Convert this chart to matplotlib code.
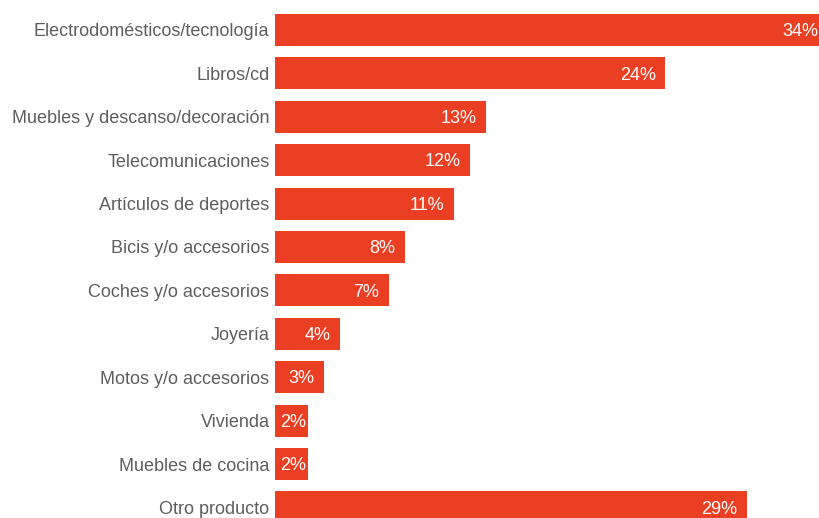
"""Horizontal bar chart of product categories by share of purchases."""

import matplotlib.pyplot as plt
import numpy as np

categories = [
    "Electrodomésticos/tecnología",
    "Libros/cd",
    "Muebles y descanso/decoración",
    "Telecomunicaciones",
    "Artículos de deportes",
    "Bicis y/o accesorios",
    "Coches y/o accesorios",
    "Joyería",
    "Motos y/o accesorios",
    "Vivienda",
    "Muebles de cocina",
    "Otro producto",
]
shares = [34, 24, 13, 12, 11, 8, 7, 4, 3, 2, 2, 29]

BAR_COLOR = "#EB3F24"
TEXT_COLOR = "#5e5e5e"

plt.rcParams["font.family"] = ["Liberation Sans", "DejaVu Sans"]

fig = plt.figure(figsize=(8.2, 5.18), dpi=100)
ax = fig.add_axes([275 / 820, 0, 545 / 820, 1])

y = np.arange(len(categories))
ax.barh(y, shares, height=0.74, color=BAR_COLOR, edgecolor="none")

# value labels sit inside the bar, near its right end
for yi, v in zip(y, shares):
    pad = 0.6 if v > 2 else 0.1
    ax.text(v - pad, yi + 0.04, f"{v}%", ha="right", va="center",
            color="white", fontsize=13)

ax.set_xlim(0, 33.5)
ax.set_ylim(11.244, -0.691)
ax.set_yticks(y)
ax.set_yticklabels(categories, fontsize=13, color=TEXT_COLOR)
ax.tick_params(axis="y", length=0, pad=4)
ax.set_xticks([])
for spine in ax.spines.values():
    spine.set_visible(False)

fig.savefig("out.png", dpi=100)
